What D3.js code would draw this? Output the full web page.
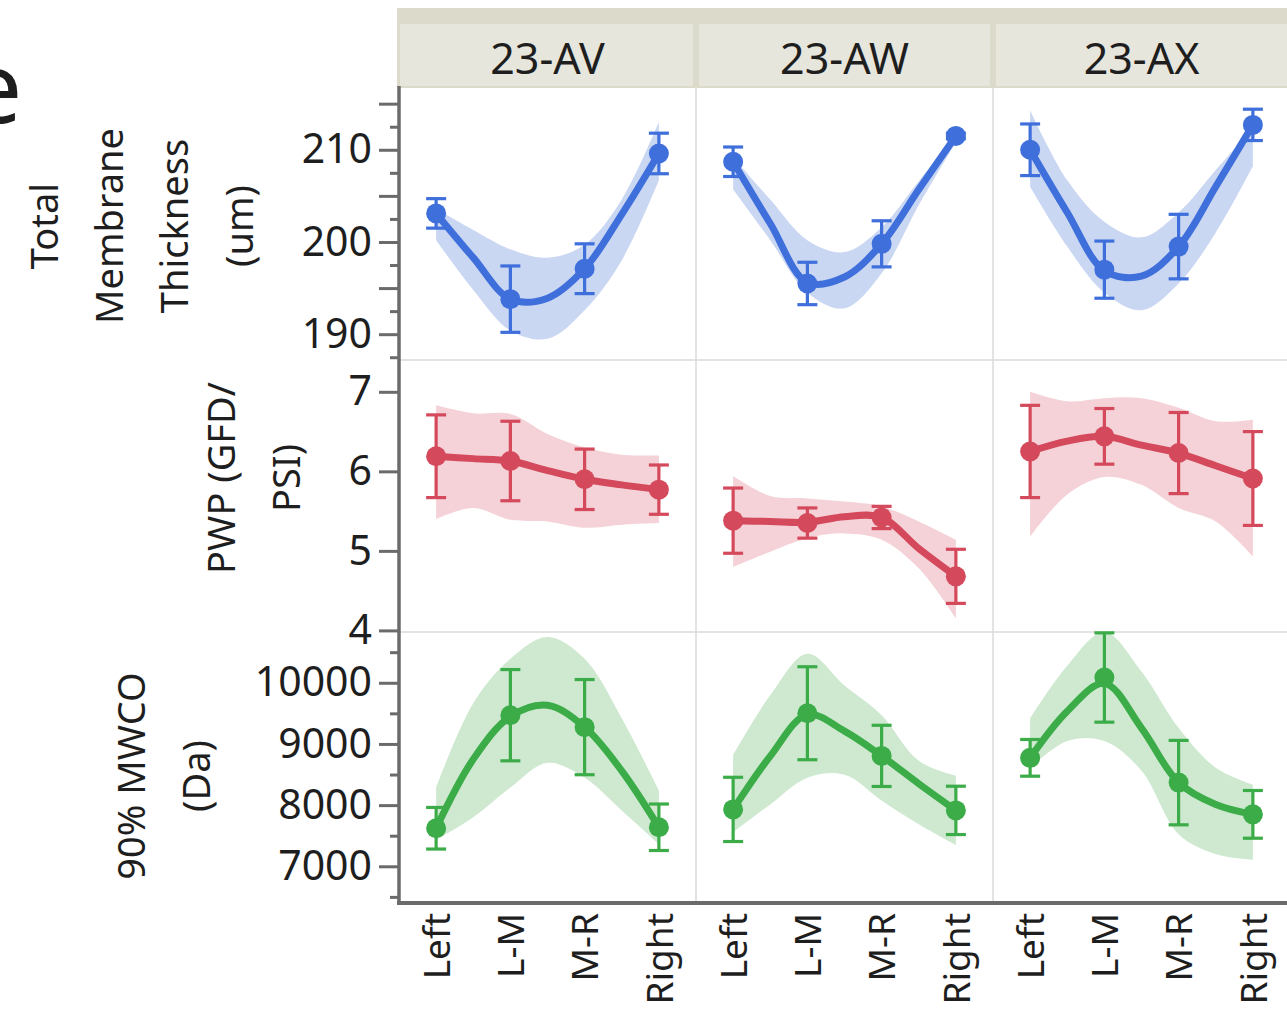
<!DOCTYPE html>
<html>
<head>
<meta charset="utf-8">
<script src="https://cdn.jsdelivr.net/npm/d3@7"></script>
<style>
  body { margin: 0; background: #fff; }
  svg { display: block; }
  text { font-family: "Noto Sans", "Open Sans", sans-serif; fill: #1e1e1e; }
</style>
</head>
<body>
<svg id="chart" width="1287" height="1009"></svg>
<script>
// ---- categories ----
const lots = ["23-AV", "23-AW", "23-AX"];
const positions = ["Left", "L-M", "M-R", "Right"];
// positions (in category units) where the smoother and its band are sampled
const fitSteps = [0, 0.5, 1, 1.5, 2, 2.5, 3];

// ---- Total Membrane Thickness (um) ----
const thicknessMean = [[203.1, 193.8, 197.1, 209.6], [208.7, 195.5, 199.8, 211.5], [210.0, 197.0, 199.5, 212.7]];
const thicknessErr  = [[1.6, 3.6, 2.7, 2.2], [1.6, 2.3, 2.5, 0.3], [2.8, 3.1, 3.5, 1.7]];
const thicknessFit  = [[203.1, 198.3, 193.8, 193.9, 197.1, 203.0, 209.6],
                       [208.7, 202.0, 195.6, 196.2, 199.8, 205.7, 211.5],
                       [210.0, 203.2, 196.9, 196.3, 199.5, 206.0, 212.7]];
const thicknessLo   = [[200.2, 194.8, 190.4, 189.5, 192.6, 198.0, 206.7],
                       [205.7, 200.2, 194.5, 192.8, 196.6, 204.0, 210.8],
                       [206.0, 199.5, 194.5, 192.6, 195.5, 201.0, 208.2]];
const thicknessHi   = [[203.6, 201.3, 199.2, 198.3, 199.7, 204.6, 213.0],
                       [209.2, 204.6, 200.2, 198.9, 201.6, 206.6, 211.4],
                       [214.3, 206.7, 202.2, 200.5, 203.2, 207.8, 212.4]];
const thicknessTicks = [190, 195, 200, 205, 210, 215];
const thicknessMinor = [187.5, 192.5, 197.5, 202.5, 207.5, 212.5];
const thicknessTickLabels = [190, 200, 210];

// ---- PWP (GFD/PSI) ----
const pwpMean = [[6.19, 6.13, 5.90, 5.77], [5.38, 5.35, 5.42, 4.68], [6.25, 6.44, 6.23, 5.91]];
const pwpErr  = [[0.52, 0.50, 0.38, 0.31], [0.41, 0.19, 0.14, 0.34], [0.58, 0.35, 0.51, 0.59]];
const pwpFit  = [[6.19, 6.16, 6.13, 6.01, 5.90, 5.83, 5.77],
                 [5.38, 5.37, 5.36, 5.43, 5.42, 5.03, 4.68],
                 [6.25, 6.38, 6.44, 6.33, 6.23, 6.07, 5.91]];
const pwpLo   = [[5.40, 5.54, 5.39, 5.37, 5.29, 5.33, 5.35],
                 [4.80, 4.99, 5.16, 5.22, 5.14, 4.78, 4.15],
                 [5.18, 5.71, 5.93, 5.83, 5.54, 5.37, 4.93]];
const pwpHi   = [[6.83, 6.73, 6.72, 6.47, 6.30, 6.21, 6.20],
                 [5.94, 5.69, 5.66, 5.62, 5.56, 5.37, 5.14],
                 [7.00, 6.88, 6.92, 6.92, 6.80, 6.63, 6.65]];
const pwpTicks = [4, 5, 6, 7];
const pwpMinor = [];
const pwpTickLabels = [4, 5, 6, 7];

// ---- 90% MWCO (Da) ----
const mwcoMean = [[7622, 9470, 9275, 7638], [7930, 9502, 8805, 7914], [8773, 10086, 8368, 7849]];
const mwcoErr  = [[340, 746, 778, 380], [525, 760, 500, 395], [300, 730, 690, 390]];
const mwcoFit  = [[7622, 8750, 9450, 9632, 9275, 8560, 7638],
                  [7930, 8800, 9480, 9210, 8805, 8350, 7914],
                  [8773, 9535, 9990, 9260, 8368, 8011, 7849]];
const mwcoLo   = [[7428, 7800, 8287, 8692, 8449, 7914, 7363],
                  [7557, 8011, 8449, 8498, 8076, 7687, 7347],
                  [8611, 9049, 9049, 8562, 7525, 7201, 7104]];
const mwcoHi   = [[8287, 9665, 10394, 10750, 10394, 9421, 8238],
                  [8822, 9795, 10475, 9956, 9470, 8724, 8481],
                  [9421, 10280, 10830, 10183, 9259, 8611, 8335]];
const mwcoTicks = [7000, 8000, 9000, 10000];
const mwcoMinor = [6500, 7500, 8500, 9500, 10500];
const mwcoTickLabels = [7000, 8000, 9000, 10000];

// ---- row titles ----
const thicknessTitle = ["Total", "Membrane", "Thickness", "(um)"];
const pwpTitle = ["PWP (GFD/", "PSI)"];
const mwcoTitle = ["90% MWCO", "(Da)"];

// ---- layout ----
const svg = d3.select("#chart");
const W = 1287;
const axisX = 399;
const panelW = 297;
const rowTop = [88, 360, 632];
const rowBottom = [360, 632, 903];

const rows = [
  { mean: thicknessMean, err: thicknessErr, fit: thicknessFit, lo: thicknessLo, hi: thicknessHi,
    domain: [187.2, 216.7], ticks: thicknessTicks, minor: thicknessMinor, labels: thicknessTickLabels,
    title: thicknessTitle, titleX: 238, titleY: 226,
    color: "#3f6fdb", band: "#cad7f3" },
  { mean: pwpMean, err: pwpErr, fit: pwpFit, lo: pwpLo, hi: pwpHi,
    domain: [3.98, 7.40], ticks: pwpTicks, minor: pwpMinor, labels: pwpTickLabels,
    title: pwpTitle, titleX: 285, titleY: 478,
    color: "#d4495b", band: "#f4d2d7" },
  { mean: mwcoMean, err: mwcoErr, fit: mwcoFit, lo: mwcoLo, hi: mwcoHi,
    domain: [6400, 10830], ticks: mwcoTicks, minor: mwcoMinor, labels: mwcoTickLabels,
    title: mwcoTitle, titleX: 195, titleY: 776,
    color: "#3bac48", band: "#cfe9d1" }
];

// heading letter running off the left edge of the page
svg.append("text").attr("x", -33).attr("y", 123)
  .attr("font-size", 98).text("e");

// ---- header strip ----
svg.append("rect").attr("x", 397).attr("y", 8).attr("width", W - 397).attr("height", 80)
  .attr("fill", "#dcdacb");
lots.forEach((lot, c) => {
  const x0 = axisX + c * panelW;
  const left = c === 0 ? x0 + 1 : x0 + 3;
  const right = c === lots.length - 1 ? W : x0 + panelW - 3;
  svg.append("rect").attr("x", left).attr("y", 24).attr("width", right - left).attr("height", 62)
    .attr("fill", "#e7e6dd");
  svg.append("text").attr("x", x0 + panelW / 2).attr("y", 57)
    .attr("text-anchor", "middle").attr("dominant-baseline", "central")
    .attr("font-size", 43).text(lot);
});

// ---- panel grid ----
const grid = svg.append("g").attr("stroke", "#dadada").attr("stroke-width", 1.5);
[1, 2].forEach(c => {
  grid.append("line").attr("x1", axisX + c * panelW).attr("x2", axisX + c * panelW)
    .attr("y1", 88).attr("y2", 903);
});
[1, 2].forEach(r => {
  grid.append("line").attr("x1", axisX).attr("x2", W).attr("y1", rowTop[r]).attr("y2", rowTop[r]);
});

// ---- rows ----
rows.forEach((row, r) => {
  const y = d3.scaleLinear().domain(row.domain).range([rowBottom[r], rowTop[r]]);

  // y axis: major ticks with labels, then minor ticks
  const major = svg.append("g").attr("transform", `translate(${axisX},0)`)
    .call(d3.axisLeft(y).tickValues(row.ticks).tickSize(20).tickPadding(7)
      .tickFormat(v => row.labels.includes(v) ? d3.format("d")(v) : ""));
  major.select(".domain").remove();
  major.selectAll(".tick line").attr("stroke", "#6b6b6b").attr("stroke-width", 3);
  major.selectAll(".tick text").attr("font-size", 41).attr("fill", "#1e1e1e")
    .attr("font-family", "\"Noto Sans\", sans-serif");

  if (row.minor.length) {
    const minor = svg.append("g").attr("transform", `translate(${axisX},0)`)
      .call(d3.axisLeft(y).tickValues(row.minor).tickSize(9).tickFormat(""));
    minor.select(".domain").remove();
    minor.selectAll(".tick line").attr("stroke", "#6b6b6b").attr("stroke-width", 3);
  }

  // row title, one rotated text per line
  const n = row.title.length;
  row.title.forEach((line, i) => {
    const tx = row.titleX - (n - 1 - i) * 65;
    svg.append("text")
      .attr("transform", `translate(${tx},${row.titleY}) rotate(-90)`)
      .attr("text-anchor", "middle").attr("dominant-baseline", "central")
      .attr("font-size", 38).text(line);
  });

  // panels
  lots.forEach((lot, c) => {
    const x0 = axisX + c * panelW;
    const x = d3.scaleLinear().domain([-0.5, 3.5]).range([x0, x0 + panelW]);
    const g = svg.append("g");

    const bandData = fitSteps.map((s, i) => ({ s, lo: row.lo[c][i], hi: row.hi[c][i], f: row.fit[c][i] }));
    const curve = d3.curveCatmullRom.alpha(0.5);

    g.append("path").datum(bandData)
      .attr("d", d3.area().curve(curve).x(d => x(d.s)).y0(d => y(d.lo)).y1(d => y(d.hi)))
      .attr("fill", row.band);

    g.append("path").datum(bandData)
      .attr("d", d3.line().curve(curve).x(d => x(d.s)).y(d => y(d.f)))
      .attr("fill", "none").attr("stroke", row.color).attr("stroke-width", 7)
      .attr("stroke-linecap", "round").attr("stroke-linejoin", "round");

    const pts = positions.map((p, i) => ({ i, m: row.mean[c][i], e: row.err[c][i] }));

    const eb = g.append("g").attr("stroke", row.color).attr("stroke-width", 3.2);
    pts.forEach(d => {
      const cx = x(d.i), top = y(d.m + d.e), bot = y(d.m - d.e);
      eb.append("line").attr("x1", cx).attr("x2", cx).attr("y1", top).attr("y2", bot);
      eb.append("line").attr("x1", cx - 10).attr("x2", cx + 10).attr("y1", top).attr("y2", top);
      eb.append("line").attr("x1", cx - 10).attr("x2", cx + 10).attr("y1", bot).attr("y2", bot);
    });

    g.selectAll("circle").data(pts).join("circle")
      .attr("cx", d => x(d.i)).attr("cy", d => y(d.m)).attr("r", 10)
      .attr("fill", row.color);
  });
});

// ---- x axes (category labels under each column) ----
lots.forEach((lot, c) => {
  const x0 = axisX + c * panelW;
  const x = d3.scaleLinear().domain([-0.5, 3.5]).range([x0, x0 + panelW]);
  const ax = svg.append("g").attr("transform", "translate(0,903)")
    .call(d3.axisBottom(x).tickValues(d3.range(positions.length)).tickSize(0)
      .tickFormat(i => positions[i]));
  ax.select(".domain").remove();
  ax.selectAll(".tick text")
    .attr("transform", "rotate(-90)")
    .attr("text-anchor", "end")
    .attr("x", -10).attr("y", 0).attr("dy", "0.36em")
    .attr("font-size", 37).attr("fill", "#1e1e1e")
    .attr("font-family", "\"Noto Sans\", sans-serif");
});

// ---- axis lines ----
svg.append("line").attr("x1", axisX).attr("x2", axisX).attr("y1", 86).attr("y2", 905)
  .attr("stroke", "#6b6b6b").attr("stroke-width", 3.5);
svg.append("line").attr("x1", axisX - 2).attr("x2", W).attr("y1", 903).attr("y2", 903)
  .attr("stroke", "#6b6b6b").attr("stroke-width", 4);
</script>
</body>
</html>
